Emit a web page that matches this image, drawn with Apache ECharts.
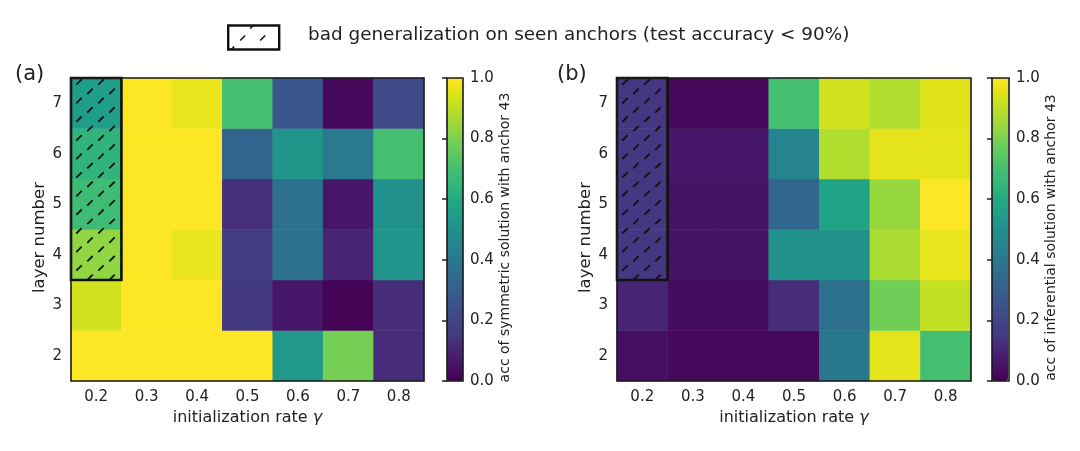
<!DOCTYPE html>
<html>
<head>
<meta charset="utf-8">
<script src="https://cdn.jsdelivr.net/npm/echarts@6/dist/echarts.min.js"></script>
<style>
  html, body { margin: 0; padding: 0; background: #fff; }
  #main { width: 1080px; height: 451px; }
</style>
</head>
<body>
<div id="main"></div>
<script>
// axis categories
const gammas = ["0.2", "0.3", "0.4", "0.5", "0.6", "0.7", "0.8"];
const layers = ["2", "3", "4", "5", "6", "7"];
const cbarTicks = [0, 0.2, 0.4, 0.6, 0.8, 1.0];

// rows = layer 2..7, cols = gamma 0.2..0.8
const symAcc = [
  [1.0, 1.0, 1.0, 1.0, 0.53, 0.79, 0.12],
  [0.93, 1.0, 1.0, 0.16, 0.06, 0.01, 0.12],
  [0.83, 1.0, 0.97, 0.17, 0.37, 0.10, 0.51],
  [0.68, 1.0, 1.0, 0.13, 0.37, 0.06, 0.50],
  [0.64, 1.0, 1.0, 0.32, 0.52, 0.41, 0.70],
  [0.55, 1.0, 0.97, 0.70, 0.27, 0.02, 0.22],
];
const infAcc = [
  [0.04, 0.02, 0.02, 0.02, 0.40, 0.96, 0.70],
  [0.10, 0.03, 0.03, 0.12, 0.37, 0.78, 0.91],
  [0.15, 0.05, 0.05, 0.50, 0.50, 0.87, 0.97],
  [0.15, 0.05, 0.05, 0.33, 0.58, 0.84, 1.0],
  [0.15, 0.06, 0.06, 0.45, 0.88, 0.96, 0.96],
  [0.15, 0.02, 0.02, 0.70, 0.93, 0.88, 0.95],
];

// hatched block: gamma index, first layer index, last layer index (layers 4..7 at gamma 0.2)
const badSym = [[0, 2, 5]];
const badInf = [[0, 2, 5]];

const viridis = [
  "#440154", "#471365", "#482475", "#453781", "#414487", "#3b528b",
  "#355f8d", "#2f6c8e", "#2a788e", "#25848e", "#21918c", "#1f9e89",
  "#22a884", "#35b779", "#44bf70", "#5ec962", "#7ad151", "#9fda3a",
  "#bddf26", "#dfe318", "#fde725",
];

const FONT = "DejaVu Sans";
const INK = "#222";

function toCells(rows) {
  const out = [];
  rows.forEach((row, yi) => row.forEach((v, xi) => out.push([xi, yi, v])));
  return out;
}

// hatch drawn as short slanted dashes on a staggered lattice
function hatchItem(params, api) {
  const lo = api.coord([api.value(0), api.value(1)]);
  const hi = api.coord([api.value(0), api.value(2)]);
  const sz = api.size([1, 1]);
  const x0 = lo[0] - sz[0] / 2, x1 = lo[0] + sz[0] / 2;
  const y0 = hi[1] - sz[1] / 2, y1 = lo[1] + sz[1] / 2;
  const kids = [];
  const dx = 22, dy = 9.3, h = 2.7;
  let j = 0;
  for (let y = y0 + 4; y < y1 + h; y += dy, j++) {
    for (let x = x0 + 8 + (j % 2 ? -11 : 0) - 22; x < x1 + h; x += dx) {
      let ax = x - h, ay = y + h, bx = x + h, by = y - h;
      // clip the dash to the box
      if (ax < x0) { ay -= x0 - ax; ax = x0; }
      if (bx > x1) { by += bx - x1; bx = x1; }
      if (ay > y1) { ax += ay - y1; ay = y1; }
      if (by < y0) { bx -= y0 - by; by = y0; }
      if (bx - ax < 0.8) continue;
      kids.push({
        type: "line",
        shape: { x1: ax, y1: ay, x2: bx, y2: by },
        style: { stroke: "#111", lineWidth: 1.8 },
      });
    }
  }
  kids.push({
    type: "rect",
    shape: { x: x0, y: y0, width: x1 - x0, height: y1 - y0 },
    style: { fill: "none", stroke: "#111", lineWidth: 2.6 },
  });
  return { type: "group", children: kids };
}

const frame = { show: true, z: 5, borderColor: "#1a1a1a", borderWidth: 1.6, backgroundColor: "transparent" };

function heatX(gi) {
  return {
    gridIndex: gi, type: "category", data: gammas,
    name: "initialization rate {g|γ}", nameLocation: "middle", nameGap: 25,
    nameTextStyle: {
      fontFamily: FONT, fontSize: 16, color: INK,
      rich: { g: { fontFamily: FONT, fontSize: 16, fontStyle: "italic", color: INK } },
    },
    axisLine: { show: false },
    axisTick: { inside: true, alignWithLabel: true, length: 5, lineStyle: { color: INK, width: 1.5 } },
    axisLabel: { fontFamily: FONT, fontSize: 15, color: INK, margin: 9 },
    splitLine: { show: false }, splitArea: { show: false },
  };
}
function heatY(gi) {
  return {
    gridIndex: gi, type: "category", data: layers,
    name: "layer number", nameLocation: "middle", nameGap: 23,
    nameTextStyle: { fontFamily: FONT, fontSize: 16.5, color: INK, padding: [0, 16, 0, 0] },
    axisLine: { show: false },
    axisTick: { inside: true, alignWithLabel: true, length: 5, lineStyle: { color: INK, width: 1.5 } },
    axisLabel: { fontFamily: FONT, fontSize: 15, color: INK, margin: 9 },
    splitLine: { show: false }, splitArea: { show: false },
  };
}
function cbarY(gi, title) {
  return {
    gridIndex: gi, type: "value", position: "right", min: 0, max: 1, interval: 0.2,
    name: title, nameLocation: "middle", nameRotate: 90, nameGap: 35,
    nameTextStyle: { fontFamily: FONT, fontSize: 14, color: INK, padding: [0, 16, 0, 0] },
    axisLine: { show: false },
    axisTick: { inside: true, length: 5, lineStyle: { color: INK, width: 1.5 } },
    axisLabel: {
      fontFamily: FONT, fontSize: 15, color: INK, margin: 7,
      formatter: (v) => (cbarTicks.some((t) => Math.abs(t - v) < 1e-9) ? v.toFixed(1) : ""),
    },
    splitLine: { show: false },
  };
}
function cbarMap(si, left) {
  return {
    type: "continuous", seriesIndex: si, min: 0, max: 1,
    calculable: false, hoverLink: false, orient: "vertical",
    left: left, top: 78, itemWidth: 16, itemHeight: 303, padding: 0,
    text: ["", ""], showLabel: false,
    inRange: { color: viridis },
  };
}

const chart = echarts.init(document.getElementById("main"), null, { renderer: "canvas" });

chart.setOption({
  animation: false,
  textStyle: { fontFamily: FONT },
  title: [
    { text: "(a)", left: 15, top: 64, padding: 0, textStyle: { fontFamily: FONT, fontSize: 21, fontWeight: "normal", color: INK } },
    { text: "(b)", left: 557, top: 64, padding: 0, textStyle: { fontFamily: FONT, fontSize: 21, fontWeight: "normal", color: INK } },
  ],
  graphic: [
    {
      type: "group", left: 227, top: 23,
      children: [
        { type: "rect", shape: { x: 0, y: 0, width: 51, height: 24 }, style: { fill: "#fff", stroke: "#111", lineWidth: 2.4 } },
        { type: "line", shape: { x1: 12, y1: 15, x2: 17, y2: 10 }, style: { stroke: "#111", lineWidth: 1.6 } },
        { type: "line", shape: { x1: 32, y1: 15, x2: 37, y2: 10 }, style: { stroke: "#111", lineWidth: 1.6 } },
        { type: "line", shape: { x1: 22, y1: 3, x2: 25, y2: 0 }, style: { stroke: "#111", lineWidth: 1.6 } },
        { type: "line", shape: { x1: 3, y1: 24, x2: 6, y2: 21 }, style: { stroke: "#111", lineWidth: 1.6 } },
      ],
    },
    {
      type: "text", left: 308, top: 26,
      style: { text: "bad generalization on seen anchors (test accuracy < 90%)", font: "18.4px 'DejaVu Sans'", fill: INK },
    },
  ],
  grid: [
    Object.assign({ left: 71, top: 78, width: 353, height: 303 }, frame),
    Object.assign({ left: 447, top: 78, width: 16, height: 303 }, frame),
    Object.assign({ left: 617, top: 78, width: 354, height: 303 }, frame),
    Object.assign({ left: 992, top: 78, width: 17, height: 303 }, frame),
  ],
  xAxis: [
    heatX(0),
    { gridIndex: 1, type: "value", show: false, min: 0, max: 1 },
    heatX(2),
    { gridIndex: 3, type: "value", show: false, min: 0, max: 1 },
  ],
  yAxis: [
    heatY(0),
    cbarY(1, "acc of symmetric solution with anchor 43"),
    heatY(2),
    cbarY(3, "acc of inferential solution with anchor 43"),
  ],
  visualMap: [cbarMap(0, 447), cbarMap(1, 992)],
  series: [
    { type: "heatmap", xAxisIndex: 0, yAxisIndex: 0, data: toCells(symAcc), itemStyle: { borderWidth: 0 }, emphasis: { disabled: true } },
    { type: "heatmap", xAxisIndex: 2, yAxisIndex: 2, data: toCells(infAcc), itemStyle: { borderWidth: 0 }, emphasis: { disabled: true } },
    { type: "custom", xAxisIndex: 0, yAxisIndex: 0, data: badSym, encode: { x: 0, y: [1, 2] }, renderItem: hatchItem, z: 4, silent: true },
    { type: "custom", xAxisIndex: 2, yAxisIndex: 2, data: badInf, encode: { x: 0, y: [1, 2] }, renderItem: hatchItem, z: 4, silent: true },
  ],
});
</script>
</body>
</html>
